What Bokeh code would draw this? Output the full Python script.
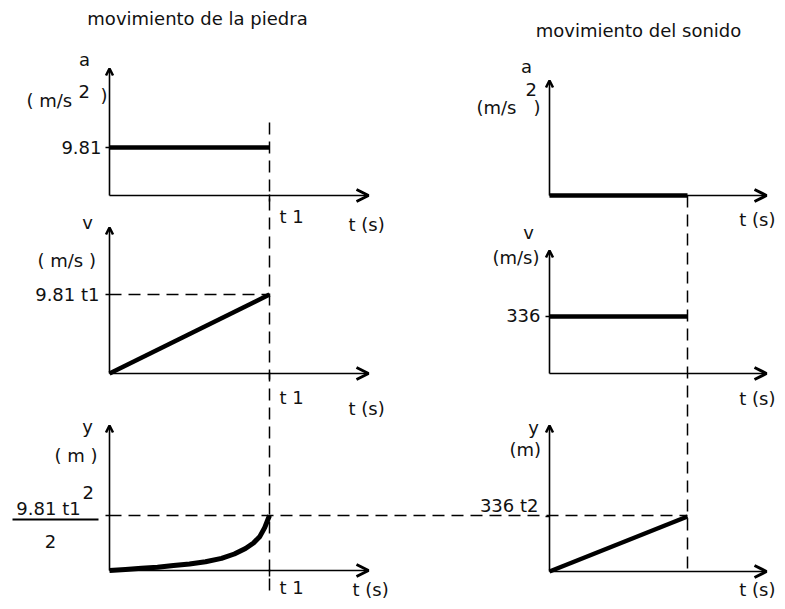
from bokeh.plotting import figure
from bokeh.models import Range1d, Arrow, OpenHead
from bokeh.core.properties import value
from bokeh.embed import file_html
from bokeh.resources import INLINE

# ---------------- data ----------------
titles = ["movimiento de la piedra", "movimiento del sonido"]
t_span = [0.0, 1.0]                      # t / t1 (piedra), t / t2 (sonido)
piedra_a = [9.81, 9.81]                  # m/s^2
piedra_v = [0.0, 9.81]                   # m/s, in units of t1
piedra_y_t = [0.0, 0.1, 0.2, 0.3, 0.4, 0.5, 0.6, 0.7, 0.78, 0.85, 0.9, 0.94, 0.97, 1.0]
piedra_y = [0.0, 0.02, 0.04, 0.06, 0.09, 0.12, 0.16, 0.22, 0.3, 0.4, 0.5, 0.62, 0.78, 1.0]  # fraction of 9.81 t1^2/2
sonido_a = [0.0, 0.0]
sonido_v = [336.0, 336.0]
sonido_y = [0.0, 336.0]                  # m, in units of t2
value_labels_piedra = ["9.81", "9.81 t1", "9.81 t1"]
value_labels_sonido = ["336", "336 t2"]
t_label = "t 1"
axis_label = "t (s)"

# ---------------- layout (px) ----------------
FONT = value("DejaVu Sans")
FS = "18px"
LX0, RX0 = 109, 549
LW, RW = 160, 138
L_BASE = [195, 373, 570]
R_BASE = [195, 373, 571]
L_TOP = [68, 227, 425]
R_TOP = [80, 250, 425]
L_END, R_END = 368, 766
L_SCALE = [48 / 9.81, 79 / 9.81, 55.0]
R_SCALE = [1.0, 57 / 336, 55 / 336]


def lx(t):
    return [LX0 + v * LW for v in t]


def rx(t):
    return [RX0 + v * RW for v in t]


def ly(vals, row):
    return [L_BASE[row] - v * L_SCALE[row] for v in vals]


def ry(vals, row):
    return [R_BASE[row] - v * R_SCALE[row] for v in vals]


W, H = 777, 601
p = figure(width=W, height=H, x_range=Range1d(0, W), y_range=Range1d(H, 0),
           output_backend="svg", toolbar_location=None, min_border=0,
           x_axis_location=None, y_axis_location=None)
p.grid.visible = False
p.outline_line_color = None
p.background_fill_color = "white"

# axes with arrows
for row in range(3):
    for x0, base, top, end in [(LX0, L_BASE[row], L_TOP[row], L_END),
                               (RX0, R_BASE[row], R_TOP[row], R_END)]:
        p.add_layout(Arrow(x_start=x0, y_start=base, x_end=end, y_end=base,
                           line_width=1.6, line_color="black",
                           end=OpenHead(size=12, line_width=3, line_color="black")))
        p.add_layout(Arrow(x_start=x0, y_start=base, x_end=x0, y_end=top,
                           line_width=1.6, line_color="black",
                           end=OpenHead(size=7, line_width=2.5, line_color="black")))

DASH = "12 7"
# dashed guide lines
t1x = lx([t_span[1]])[0]
t2x = rx([t_span[1]])[0]
p.line([t1x, t1x], [122, 590], line_dash=DASH, line_width=1.5, color="black")
p.line([t2x, t2x], [R_BASE[0], R_BASE[2]], line_dash=DASH, line_width=1.5, color="black")
p.line(lx(t_span), [ly([piedra_v[1]], 1)[0]] * 2, line_dash=DASH, line_width=1.5, color="black")
yb = ly([piedra_y[-1]], 2)[0]
p.line([LX0, t2x], [yb, yb], line_dash=DASH, line_width=1.5, color="black")

# data lines (thick)
TW = 4.5
p.line(lx(t_span), ly(piedra_a, 0), line_width=TW, color="black")
p.line(lx(t_span), ly(piedra_v, 1), line_width=TW, color="black")
p.line(lx(piedra_y_t), ly(piedra_y, 2), line_width=TW + 0.5, color="black", line_join="round")
p.line(rx(t_span), ry(sonido_a, 0), line_width=TW, color="black")
p.line(rx(t_span), ry(sonido_v, 1), line_width=TW, color="black")
p.line(rx(t_span), ry(sonido_y, 2), line_width=TW, color="black")

# small ticks at value levels
tick_y = [ly([piedra_a[0]], 0)[0], ly([piedra_v[1]], 1)[0], yb]
p.segment(x0=[LX0 - 4] * 3, x1=[LX0] * 3, y0=tick_y, y1=tick_y, line_width=1.5, color="black")
rt_y = [ry([sonido_v[0]], 1)[0], ry([sonido_y[1]], 2)[0]]
p.segment(x0=[RX0 - 4] * 2, x1=[RX0] * 2, y0=rt_y, y1=rt_y, line_width=1.5, color="black")
# t1 ticks below axes
p.segment(x0=[t1x] * 3, x1=[t1x] * 3, y0=[b - 1 for b in L_BASE], y1=[b + 6 for b in L_BASE],
          line_width=1.5, color="black")

common = dict(text_font=FONT, text_font_size=FS, text_color="#111111", text_baseline="middle")

# titles
p.text(x=[197, 638], y=[18, 30], text=titles, text_align="center", **common)

# axis names
p.text(x=[84, 87, 87, 526, 528, 533],
       y=[59, 222, 426, 66, 232, 427],
       text=["a", "v", "y", "a", "v", "y"], text_align="center", **common)
# units
p.text(x=[26, 37, 54, 476, 492, 509],
       y=[100, 260, 455, 107, 257, 449],
       text=["( m/s", "( m/s )", "( m )", "(m/s", "(m/s)", "(m)"], text_align="left", **common)
# superscripts / closing parentheses
p.text(x=[78, 100, 525, 533, 82],
       y=[91, 95, 89, 107, 492],
       text=["2", ")", "2", ")", "2"], text_align="left", **common)

# value labels
p.text(x=[101, 99], y=tick_y[:2], text=value_labels_piedra[:2], text_align="right", **common)
p.text(x=[48], y=[508], text=[value_labels_piedra[2]], text_align="center", **common)
p.line([12, 98], [519, 519], line_width=2, color="black")
p.text(x=[50], y=[541], text=["2"], text_align="center", **common)
p.text(x=[540, 538], y=[315, 505], text=value_labels_sonido, text_align="right", **common)

# t1 labels and t(s) labels
p.text(x=[279] * 3, y=[216, 397, 587], text=[t_label] * 3, text_align="left", **common)
p.text(x=[348, 348, 352], y=[224, 408, 589],
       text=[axis_label] * 3, text_align="left", **common)
p.text(x=[775, 775, 775], y=[219, 398, 589],
       text=[axis_label] * 3, text_align="right", **common)

open("out.html", "w").write(file_html(p, INLINE))
